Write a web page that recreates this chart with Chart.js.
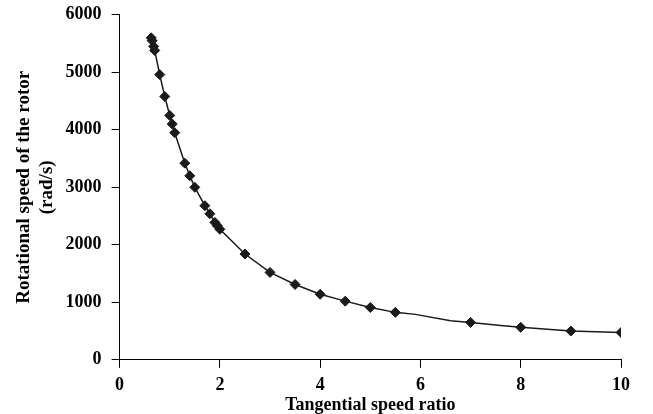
<!DOCTYPE html>
<html>
<head>
<meta charset="utf-8">
<script src="https://cdn.jsdelivr.net/npm/chart.js@4/dist/chart.umd.min.js"></script>
<style>
  html, body { margin: 0; padding: 0; background: #fff; overflow: hidden; }
  #wrap { position: relative; top: -6px; width: 653px; height: 422px; }
</style>
</head>
<body>
<div id="wrap"><canvas id="rotorChart"></canvas></div>
<script>
// Tangential speed ratio vs rotational speed
const speedRatio = [0.63, 0.65, 0.68, 0.70, 0.80, 0.90, 1.00, 1.05, 1.10, 1.30, 1.40, 1.50,
                    1.70, 1.80, 1.90, 1.95, 2.00, 2.50, 3.00, 3.50, 4.00, 4.50, 5.00, 5.50,
                    5.90, 6.60, 7.00, 7.60, 8.00, 9.00, 10.00];
const rotorSpeed = [5600, 5550, 5450, 5380, 4960, 4580, 4250, 4100, 3950, 3420, 3200, 3000,
                    2680, 2540, 2390, 2330, 2270, 1840, 1520, 1310, 1140, 1020, 910, 825,
                    790, 680, 650, 595, 565, 500, 475];
// points that are only part of the line (no marker in the figure)
const unmarked = [5.90, 6.60, 7.60];

const xTicks = [0, 2, 4, 6, 8, 10];
const yTicks = [0, 1000, 2000, 3000, 4000, 5000, 6000];

const points = speedRatio.map((x, i) => ({ x: x, y: rotorSpeed[i] }));
const radii = speedRatio.map(x => unmarked.includes(x) ? 0 : 5);

const serif = 'Liberation Serif, Times New Roman, serif';

const ctx = document.getElementById('rotorChart').getContext('2d');
new Chart(ctx, {
    type: 'line',
    data: {
        datasets: [{
            data: points,
            borderColor: '#1a1a1a',
            borderWidth: 1.5,
            backgroundColor: '#1a1a1a',
            pointStyle: 'rectRot',
            pointRadius: radii,
            pointBorderWidth: 1,
            tension: 0
        }]
    },
    options: {
        responsive: true,
        maintainAspectRatio: false,
        animation: false,
        layout: { padding: { left: 13, right: 32, top: 4, bottom: 0 } },
        plugins: {
            legend: { display: false },
            tooltip: { enabled: false }
        },
        scales: {
            x: {
                type: 'linear',
                min: 0,
                max: 10,
                afterBuildTicks: axis => { axis.ticks = xTicks.map(v => ({ value: v })); },
                grid: { drawOnChartArea: false, tickLength: 8, color: '#000' },
                border: { color: '#000', width: 1 },
                ticks: {
                    color: '#000',
                    font: { family: serif, size: 18, weight: 'bold' },
                    padding: 7,
                    maxRotation: 0,
                    callback: v => String(v)
                },
                title: {
                    display: true,
                    text: 'Tangential speed ratio',
                    color: '#000',
                    font: { family: serif, size: 18, weight: 'bold' },
                    padding: { top: -9, bottom: 0 }
                }
            },
            y: {
                min: 0,
                max: 6000,
                afterBuildTicks: axis => { axis.ticks = yTicks.map(v => ({ value: v })); },
                grid: { drawOnChartArea: false, tickLength: 8, color: '#000' },
                border: { color: '#000', width: 1 },
                ticks: {
                    color: '#000',
                    font: { family: serif, size: 18, weight: 'bold' },
                    padding: 10,
                    callback: v => String(v)
                },
                title: {
                    display: true,
                    text: ['Rotational speed of the rotor', '(rad/s)'],
                    color: '#000',
                    font: { family: serif, size: 19, weight: 'bold', lineHeight: 1.2 },
                    padding: { top: 0, bottom: -3 }
                }
            }
        }
    }
});
</script>
</body>
</html>
